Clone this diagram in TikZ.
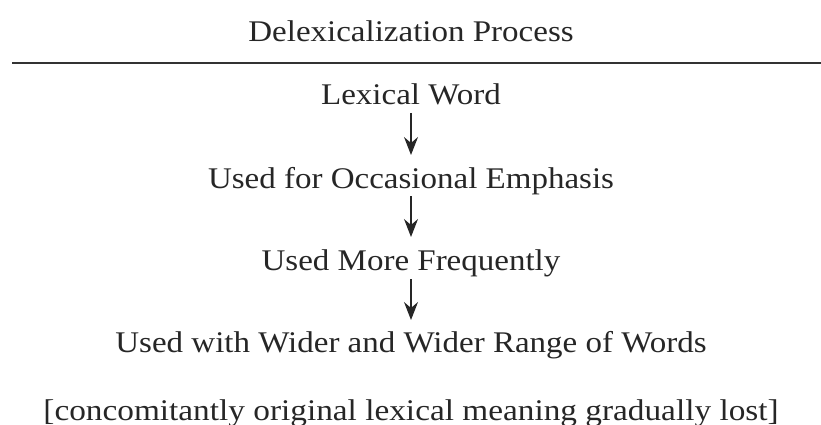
\documentclass[tikz,border=0pt]{standalone}
\usepackage{fontspec}
\setmainfont{Liberation Serif}
\usetikzlibrary{arrows.meta}
\newcommand{\wide}[1]{\scalebox{1.1}[1]{#1}}
\begin{document}
\begin{tikzpicture}[x=1pt,y=-1pt,
  lbl/.style={anchor=base,inner sep=0pt,text=black!85,font=\fontsize{30}{34}\selectfont},
  arr/.style={-{Stealth[length=18pt,width=14pt,inset=6pt]},line width=1.2pt,draw=black!85}]
\useasboundingbox (0,0) rectangle (821,425);
\node[lbl] (title) at (411,42) {\wide{Delexicalization Process}};
\draw[line width=1.4pt,black!80] (12,63) coordinate (rl) -- (821,63) coordinate (rr);
\node[lbl] (a) at (411,105) {\wide{Lexical Word}};
\node[lbl] (b) at (411,188) {\wide{Used for Occasional Emphasis}};
\node[lbl] (c) at (411,270) {\wide{Used More Frequently}};
\node[lbl] (d) at (411,352) {\wide{Used with Wider and Wider Range of Words}};
\node[lbl] (e) at (411,420) {\scalebox{1.11}[1]{[concomitantly original lexical meaning gradually lost]}};
\coordinate (a1) at (411,113); \coordinate (a2) at (411,155);
\coordinate (b1) at (411,196); \coordinate (b2) at (411,237);
\coordinate (c1) at (411,279); \coordinate (c2) at (411,320);
\draw[arr] (a1) -- (a2);
\draw[arr] (b1) -- (b2);
\draw[arr] (c1) -- (c2);
\end{tikzpicture}
\end{document}
